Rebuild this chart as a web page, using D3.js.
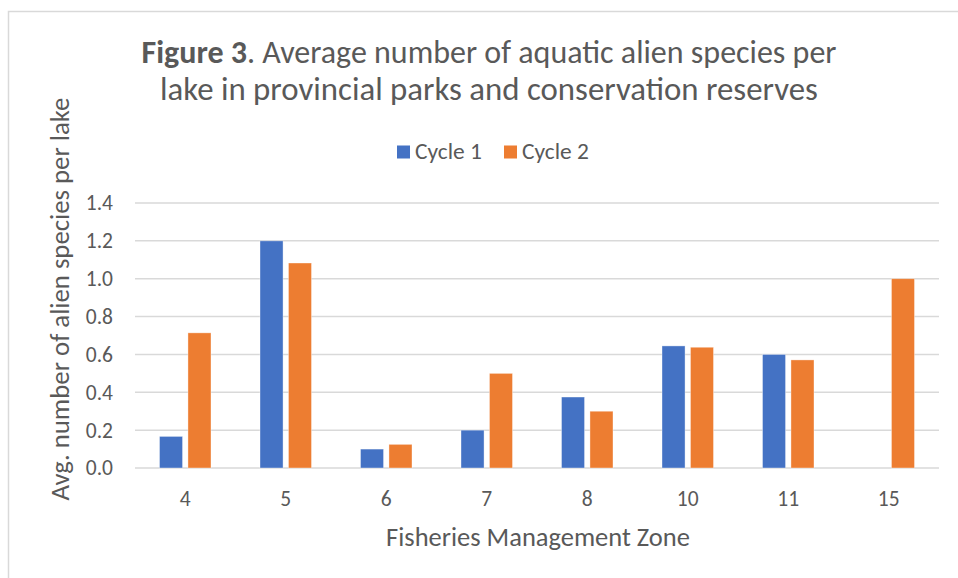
<!DOCTYPE html>
<html>
<head>
<meta charset="utf-8">
<script src="https://cdn.jsdelivr.net/npm/d3@7"></script>
<style>
  body { margin: 0; background: #fff; }
  text { font-family: Calibri, Carlito, "Open Sans", sans-serif; fill: #595959; }
</style>
</head>
<body>
<div id="chart"></div>
<script>
const zones = ["4", "5", "6", "7", "8", "10", "11", "15"];
const series = ["Cycle 1", "Cycle 2"];
const cycle1 = [0.167, 1.2, 0.1, 0.2, 0.375, 0.645, 0.6, 0];
const cycle2 = [0.714, 1.083, 0.125, 0.5, 0.3, 0.638, 0.571, 1.0];
const yTicks = [0, 0.2, 0.4, 0.6, 0.8, 1.0, 1.2, 1.4];
const colors = ["#4472C4", "#ED7D31"];

const width = 958, height = 578;
const plot = { left: 135, right: 939, top: 203, bottom: 468 };

const svg = d3.select("#chart").append("svg")
  .attr("width", width)
  .attr("height", height);

// light chart border (only top and left show in frame)
svg.append("rect")
  .attr("x", 8.5).attr("y", 11.5)
  .attr("width", width + 20).attr("height", height + 20)
  .attr("fill", "none")
  .attr("stroke", "#d9d9d9")
  .attr("stroke-width", 1.5);

// size a text so its width matches the one
function fit(sel, target) {
  const size = parseFloat(sel.attr("font-size"));
  const w = sel.node().getComputedTextLength();
  if (w > 0) sel.attr("font-size", size * target / w);
  return sel;
}

const x0 = d3.scaleBand()
  .domain(zones)
  .range([plot.left, plot.right])
  .paddingInner(0.4876)
  .paddingOuter(0.2438);

const x1 = d3.scaleBand()
  .domain(series)
  .range([0, x0.bandwidth()])
  .paddingInner(0.19);

const y = d3.scaleLinear()
  .domain([0, 1.4])
  .range([plot.bottom, plot.top]);

// gridlines
svg.append("g")
  .selectAll("line")
  .data(yTicks)
  .join("line")
    .attr("x1", plot.left)
    .attr("x2", plot.right)
    .attr("y1", d => y(d))
    .attr("y2", d => y(d))
    .attr("stroke", "#d9d9d9")
    .attr("stroke-width", 1.5);

// y axis labels
const yAxis = svg.append("g")
  .attr("transform", "translate(" + (plot.left - 22) + ",0)")
  .call(d3.axisLeft(y).tickValues(yTicks).tickFormat(d3.format(".1f")).tickSize(0).tickPadding(0));
yAxis.select(".domain").remove();
yAxis.selectAll("text")
  .attr("font-size", 21.5)
  .attr("font-family", null)
  .attr("fill", "#595959");

// x axis labels
const xAxis = svg.append("g")
  .attr("transform", "translate(0," + plot.bottom + ")")
  .call(d3.axisBottom(x0).tickSize(0).tickPadding(23));
xAxis.select(".domain").remove();
xAxis.selectAll("text")
  .attr("font-size", 21.5)
  .attr("font-family", null)
  .attr("fill", "#595959");

// bars
const rows = zones.map((z, i) => ({ zone: z, values: [cycle1[i], cycle2[i]] }));

svg.append("g")
  .selectAll("g")
  .data(rows)
  .join("g")
    .attr("transform", d => "translate(" + x0(d.zone) + ",0)")
  .selectAll("rect")
  .data(d => d.values.map((v, j) => ({ key: series[j], value: v, color: colors[j] })))
  .join("rect")
    .filter(d => d.value > 0)
    .attr("x", d => x1(d.key))
    .attr("y", d => y(d.value))
    .attr("width", x1.bandwidth())
    .attr("height", d => y(0) - y(d.value))
    .attr("fill", d => d.color)
    .attr("stroke", "#fff")
    .attr("stroke-opacity", 0.5)
    .attr("stroke-width", 0.75);

// title
const title = svg.append("text")
  .attr("text-anchor", "middle")
  .attr("x", 489).attr("y", 63)
  .attr("font-size", 28);
title.append("tspan").attr("font-weight", "bold").text("Figure 3");
title.append("tspan").text(". Average number of aquatic alien species per");
const t2 = svg.append("text")
  .attr("text-anchor", "middle")
  .attr("x", 489).attr("y", 100)
  .attr("font-size", 28)
  .text("lake in provincial parks and conservation reserves");
fit(title, 695);
fit(t2, 658);

// legend
const legend = svg.append("g");
const legendX = [397, 504];
series.forEach((s, i) => {
  legend.append("rect")
    .attr("x", legendX[i]).attr("y", 145.5)
    .attr("width", 13).attr("height", 13)
    .attr("fill", colors[i]);
  fit(legend.append("text")
    .attr("x", legendX[i] + 18).attr("y", 159)
    .attr("font-size", 20)
    .text(s), 67);
});

// axis titles
fit(svg.append("text")
  .attr("text-anchor", "middle")
  .attr("x", 538).attr("y", 546)
  .attr("font-size", 22)
  .text("Fisheries Management Zone"), 304);

fit(svg.append("text")
  .attr("text-anchor", "middle")
  .attr("transform", "translate(69,299) rotate(-90)")
  .attr("font-size", 22)
  .text("Avg. number of alien species per lake"), 403);
</script>
</body>
</html>
